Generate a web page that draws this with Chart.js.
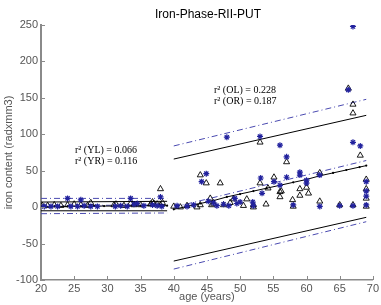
<!DOCTYPE html>
<html>
<head>
<meta charset="utf-8">
<script src="https://cdn.jsdelivr.net/npm/chart.js"></script>
<style>
    html, body { margin: 0; padding: 0; background: #fff; }
</style>
</head>
<body>
<canvas id="chart" width="381" height="305"></canvas>
<script>
// left hemisphere (triangles)
const ageL = [20.2, 21, 22, 23, 24, 25, 26, 27, 27.5, 31, 31.3, 32.5, 33.5, 34, 35, 36.5, 36.8, 37, 37.5, 38, 38, 38.3,
    40, 41, 42, 43.5, 44, 44, 44.9, 45.5, 45.7, 46, 47, 47.5, 48.5, 49, 50.5, 51, 52, 52, 53, 53, 53.9, 54.2, 55.1,
    56, 56, 56.2, 57, 57.9, 58, 59, 59, 60, 60.3, 62, 62, 65, 66.3, 67, 67, 67, 68.1, 69, 69, 69, 69]
const ironL = [2, 2, 3, 2, 3, 4, 3, 2, 6, 3, 4, 2, 5, 3, 3, 4, 7, 5, 4, 3, 25, 6,
    1, 0, 2, 0, 44, 3, 33, 12, 3, 5, 33, 3, 6, 11, 2, 11, 3, 0, 89, 33, 4, 26, 41,
    21, 14, 22, 62, 10, 1, 25, 16, 27, 19, 47, 8, 3, 163, 141, 129, 3, 71, 38, 25, 12, 1]

// right hemisphere (stars)
const ageR = [20.5, 21.5, 22.5, 24, 24.5, 25.5, 26, 26.5, 27.5, 28.5, 31.2, 32, 33, 33.5, 34, 34.5, 35.5, 36.8, 37.5, 38, 38.2,
    40.5, 42, 43, 44.2, 44.9, 45.2, 46, 46.5, 47.5, 48, 48.3, 49.2, 49.5, 50, 51.9, 52, 53, 53.1, 53.3, 55.1,
    56, 56, 57, 57, 58, 59, 59, 60, 60, 62, 62, 65, 66.3, 67, 67, 67, 68.1, 69, 69, 69, 69]
const ironR = [1, 1, 1, 12, 1, 1, 10, 2, 1, 1, 1, 2, 1, 12, 4, 5, 2, 3, 2, 14, 1,
    2, 1, 3, 35, 46, 8, 6, 2, 4, 96, 2, 12, 5, 7, 7, 2, 97, 40, 19, 35,
    85, 30, 69, 41, 3, 48, 44, 37, 33, 44, 1, 2, 161, 248, 89, 2, 84, 35, 22, 15, 3]

// fitted lines, young (20-39) and old (40-69)
const youngX = [20, 39]
const youngFitR = [2, 3]
const youngUpL = [7, 8]
const youngLoL = [-5, -5]
const youngUpR = [12, 12]
const youngLoR = [-9, -8]
const youngDotX = [20, 22, 24, 26, 28, 29.5, 31, 33, 35, 37, 39]
const youngDotY = [1, 1, 1, 1, 1.5, 1.5, 1.5, 1.5, 2, 2, 2]

const oldX = [40, 69]
const oldFitR = [0, 64]
const oldUpL = [66, 126]
const oldLoL = [-74, -14]
const oldUpR = [84, 148]
const oldLoR = [-85, -20]
const oldDotX = [40, 42, 44, 46, 48, 50, 52, 54, 56, 58, 60, 62, 64, 66, 68, 69]
const oldDotY = [-3, 1, 5, 9, 14, 18, 22, 26, 30, 34, 38, 43, 47, 51, 55, 57]

const xTicks = [20, 25, 30, 35, 40, 45, 50, 55, 60, 65, 70]
const yTicks = [-100, -50, 0, 50, 100, 150, 200, 250]

const notes = [
    ['r\u00b2 (YL) = 0.066', 75, 150],
    ['r\u00b2 (YR) = 0.116', 75, 161],
    ['r\u00b2 (OL) = 0.228', 214, 90],
    ['r\u00b2 (OR) = 0.187', 214, 101],
]

function pts(xs, ys) {
    return xs.map((x, i) => ({ x: x, y: ys[i] }))
}

const blueLine = '#4a4ab0'
const starBlue = '#22229e'
const dashDot = [6, 3, 1, 3]

function line(xs, ys, color, dash) {
    return {
        data: pts(xs, ys),
        showLine: true,
        borderColor: color,
        borderWidth: 1,
        borderDash: dash,
        pointRadius: 0,
        order: 2,
    }
}

const inwardTicks = {
    id: 'inwardTicks',
    afterDraw(chart) {
        const ctx = chart.ctx
        const a = chart.chartArea
        const xs = chart.scales.x
        const ys = chart.scales.y
        ctx.save()
        ctx.strokeStyle = '#8a8a8a'
        ctx.lineWidth = 1
        ctx.beginPath()
        xTicks.forEach(v => {
            const p = Math.round(xs.getPixelForValue(v)) + 0.5
            ctx.moveTo(p, a.bottom)
            ctx.lineTo(p, a.bottom - 4)
        })
        yTicks.forEach(v => {
            const p = Math.round(ys.getPixelForValue(v)) + 0.5
            ctx.moveTo(a.left, p)
            ctx.lineTo(a.left + 4, p)
        })
        ctx.stroke()

        ctx.fillStyle = '#000'
        ctx.font = '12px "Liberation Sans", Arial, sans-serif'
        ctx.textAlign = 'center'
        ctx.textBaseline = 'middle'
        ctx.fillText('Iron-Phase-RII-PUT', 208, 15)

        ctx.font = '10px "Liberation Serif", "Times New Roman", serif'
        ctx.textAlign = 'left'
        notes.forEach(n => ctx.fillText(n[0], n[1], n[2]))
        ctx.restore()
    }
}

new Chart(document.getElementById('chart'), {
    type: 'scatter',
    data: {
        datasets: [
            {
                data: pts(ageR, ironR),
                pointStyle: 'star',
                pointRadius: 3,
                borderColor: starBlue,
                borderWidth: 1.2,
                backgroundColor: starBlue,
                order: 0,
            },
            {
                data: pts(ageL, ironL),
                pointStyle: 'triangle',
                pointRadius: 3.5,
                borderColor: '#000',
                borderWidth: 0.9,
                backgroundColor: 'rgba(255,255,255,0)',
                order: 0,
            },
            {
                data: pts(youngDotX, youngDotY),
                showLine: true,
                borderColor: '#000',
                borderWidth: 1,
                pointRadius: 1.1,
                pointBackgroundColor: '#000',
                pointBorderWidth: 0,
                order: 1,
            },
            {
                data: pts(oldDotX, oldDotY),
                showLine: true,
                borderColor: '#000',
                borderWidth: 1,
                pointRadius: 1.1,
                pointBackgroundColor: '#000',
                pointBorderWidth: 0,
                order: 1,
            },
            line(youngX, youngFitR, blueLine, dashDot),
            line(youngX, youngUpL, '#000', []),
            line(youngX, youngLoL, '#000', []),
            line(youngX, youngUpR, blueLine, dashDot),
            line(youngX, youngLoR, blueLine, dashDot),
            line(oldX, oldFitR, blueLine, dashDot),
            line(oldX, oldUpL, '#000', []),
            line(oldX, oldLoL, '#000', []),
            line(oldX, oldUpR, blueLine, dashDot),
            line(oldX, oldLoR, blueLine, dashDot),
        ],
    },
    options: {
        responsive: false,
        animation: false,
        devicePixelRatio: 1,
        layout: { padding: { top: 25, right: 5, left: 0, bottom: 0 } },
        plugins: {
            legend: { display: false },
            tooltip: { enabled: false },
        },
        scales: {
            x: {
                type: 'linear',
                min: 20,
                max: 70,
                afterFit: s => { s.height = 25 },
                afterBuildTicks: s => { s.ticks = xTicks.map(v => ({ value: v })) },
                ticks: {
                    color: '#555',
                    padding: 2,
                    maxRotation: 0,
                    font: { family: '"Liberation Sans", Arial, sans-serif', size: 11 },
                },
                grid: { display: false, drawTicks: false },
                border: { color: '#8a8a8a', width: 1.5 },
                title: {
                    display: true,
                    text: 'age (years)',
                    color: '#555',
                    padding: { top: 0, bottom: 1 },
                    font: { family: '"Liberation Sans", Arial, sans-serif', size: 11 },
                },
            },
            y: {
                min: -100,
                max: 250,
                afterFit: s => { s.width = 41 },
                afterBuildTicks: s => { s.ticks = yTicks.map(v => ({ value: v })) },
                ticks: {
                    color: '#555',
                    padding: 3,
                    font: { family: '"Liberation Sans", Arial, sans-serif', size: 11 },
                },
                grid: { display: false, drawTicks: false },
                border: { color: '#8a8a8a', width: 2 },
                title: {
                    display: true,
                    text: 'iron content (radxmm3)',
                    color: '#555',
                    padding: { top: 2, bottom: 0 },
                    font: { family: '"Liberation Sans", Arial, sans-serif', size: 11 },
                },
            },
        },
    },
    plugins: [inwardTicks],
})
</script>
</body>
</html>
